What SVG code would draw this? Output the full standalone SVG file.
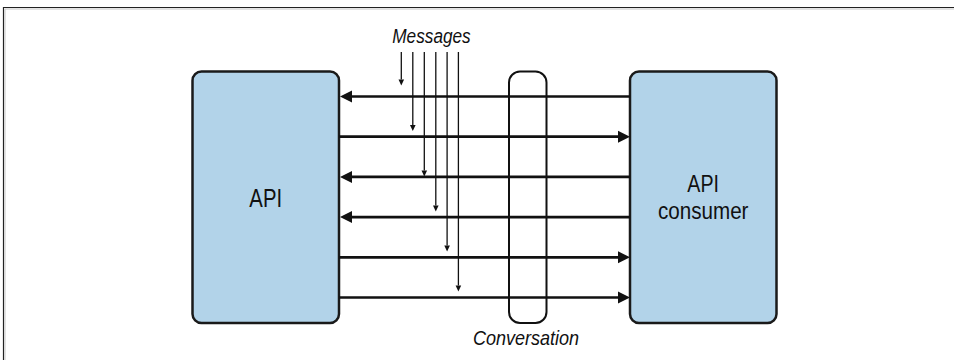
<svg xmlns="http://www.w3.org/2000/svg" width="954" height="360" viewBox="0 0 954 360">
<style>
.box{fill:#b2d3e9;stroke:#1a1a1a;stroke-width:2.5}
.lbl{font-family:"Liberation Sans",Arial,sans-serif;font-size:26px;fill:#111;text-anchor:middle}
.lbl2{font-family:"Liberation Sans",Arial,sans-serif;font-size:24px;fill:#111;text-anchor:middle}
.ital{font-family:"Liberation Sans",Arial,sans-serif;font-size:20.5px;font-style:italic;fill:#111;text-anchor:middle}
.conn{stroke:#111;stroke-width:2.7;fill:none}
.msg{stroke:#111;stroke-width:1.3;fill:none}
</style>
<defs>
<marker id="big" markerUnits="userSpaceOnUse" markerWidth="14" markerHeight="14" viewBox="0 -7 13 14" refX="0" refY="0" orient="auto">
<path d="M0,-6 L12,0 L0,6 z" fill="#111"/>
</marker>
<marker id="small" markerUnits="userSpaceOnUse" markerWidth="8" markerHeight="8" viewBox="0 -4 7 8" refX="0" refY="0" orient="auto">
<path d="M0,-2.8 L6,0 L0,2.8 z" fill="#111"/>
</marker>
</defs>
<rect width="954" height="360" fill="#fff"/>
<path d="M3.5,360 V7.5 H954" fill="none" stroke="#222" stroke-width="1.2"/>
<path d="M5,360 V9 H954" fill="none" stroke="#c8c8c8" stroke-width="1"/>

<g id="api">
<rect class="box" x="192.5" y="71.5" width="146.5" height="251.5" rx="9"/>
<text class="lbl" transform="translate(265.7,206.5) scale(0.78,1)">API</text>
</g>
<g id="api-consumer">
<rect class="box" x="630" y="71.5" width="146.5" height="251.5" rx="9"/>
<text class="lbl2" transform="translate(703.2,191.5) scale(0.82,1)">API</text>
<text class="lbl2" transform="translate(703.2,219) scale(0.86,1)">consumer</text>
</g>
<g id="conversation">
<rect x="509" y="71.5" width="37.5" height="251.5" rx="11" fill="none" stroke="#111" stroke-width="2"/>
<text class="ital" transform="translate(526,344.5) scale(0.88,1)">Conversation</text>
</g>
<g id="messages">
<text class="ital" transform="translate(431.5,43) scale(0.84,1)">Messages</text>
</g>

<g id="connectors">
<line class="conn" x1="630" y1="96.5" x2="352" y2="96.5" marker-end="url(#big)"/>
<line class="conn" x1="339" y1="136.7" x2="618" y2="136.7" marker-end="url(#big)"/>
<line class="conn" x1="630" y1="176.9" x2="352" y2="176.9" marker-end="url(#big)"/>
<line class="conn" x1="630" y1="217.1" x2="352" y2="217.1" marker-end="url(#big)"/>
<line class="conn" x1="339" y1="257.3" x2="618" y2="257.3" marker-end="url(#big)"/>
<line class="conn" x1="339" y1="297.5" x2="618" y2="297.5" marker-end="url(#big)"/>

<line class="msg" x1="401.3" y1="52" x2="401.3" y2="79.5" marker-end="url(#small)"/>
<line class="msg" x1="412.8" y1="52" x2="412.8" y2="125" marker-end="url(#small)"/>
<line class="msg" x1="424.3" y1="52" x2="424.3" y2="170.5" marker-end="url(#small)"/>
<line class="msg" x1="435.8" y1="52" x2="435.8" y2="205.5" marker-end="url(#small)"/>
<line class="msg" x1="447.1" y1="52" x2="447.1" y2="245.5" marker-end="url(#small)"/>
<line class="msg" x1="458.4" y1="52" x2="458.4" y2="285.5" marker-end="url(#small)"/>
</g>
</svg>
